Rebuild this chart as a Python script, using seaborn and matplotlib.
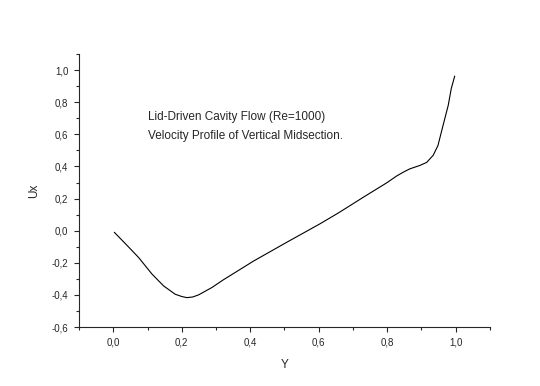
import matplotlib
matplotlib.use("Agg")
import matplotlib.pyplot as plt
import seaborn as sns
import pandas as pd
from matplotlib.ticker import FuncFormatter, MultipleLocator

# points
y_pos = [0.003, 0.035, 0.074, 0.113, 0.147, 0.181, 0.200, 0.215, 0.232, 0.249,
         0.288, 0.320, 0.409, 0.506, 0.603, 0.657, 0.730, 0.800, 0.827, 0.850,
         0.866, 0.895, 0.915, 0.934, 0.948, 0.963, 0.978, 0.987, 0.997]
ux = [-0.01, -0.08, -0.167, -0.27, -0.344, -0.396, -0.410, -0.417, -0.413, -0.40,
      -0.354, -0.308, -0.19, -0.073, 0.042, 0.11, 0.208, 0.30, 0.340, 0.368,
      0.385, 0.406, 0.425, 0.469, 0.53, 0.656, 0.78, 0.886, 0.9625]

df = pd.DataFrame({'Y': y_pos, 'Ux': ux})

sns.set_style("ticks")
plt.rcParams['font.family'] = ['Liberation Sans', 'DejaVu Sans']

fig = plt.figure(figsize=(5.4, 3.86), dpi=100)
ax = fig.add_axes([0.1463, 0.1528, 0.7611, 0.7072])

sns.lineplot(data=df, x='Y', y='Ux', color='black', lw=0.8, ax=ax, sort=False)

ax.set_xlim(-0.1, 1.1)
ax.set_ylim(-0.6, 1.1)
ax.xaxis.set_major_locator(MultipleLocator(0.2))
ax.xaxis.set_minor_locator(MultipleLocator(0.1))
ax.yaxis.set_major_locator(MultipleLocator(0.2))
ax.yaxis.set_minor_locator(MultipleLocator(0.1))

comma = FuncFormatter(lambda v, p: f"{v:.1f}".replace('.', ',').replace('-0,0', '0,0'))
ax.xaxis.set_major_formatter(comma)
ax.yaxis.set_major_formatter(comma)

ax.tick_params(which='major', length=3.6, width=0.8, labelsize=7, pad=4)
ax.tick_params(which='minor', length=2, width=0.8)
for s in ['left', 'bottom']:
    ax.spines[s].set_linewidth(0.8)
sns.despine(ax=ax)

ax.set_xlabel('Y', fontsize=8.5, labelpad=8)
ax.set_ylabel('Ux', fontsize=8.5, labelpad=8)

ax.text(0.1, 0.71, 'Lid-Driven Cavity Flow (Re=1000)', fontsize=8.5, va='center')
ax.text(0.1, 0.59, 'Velocity Profile of Vertical Midsection.', fontsize=8.5, va='center')

fig.savefig('out.png', dpi=100)
